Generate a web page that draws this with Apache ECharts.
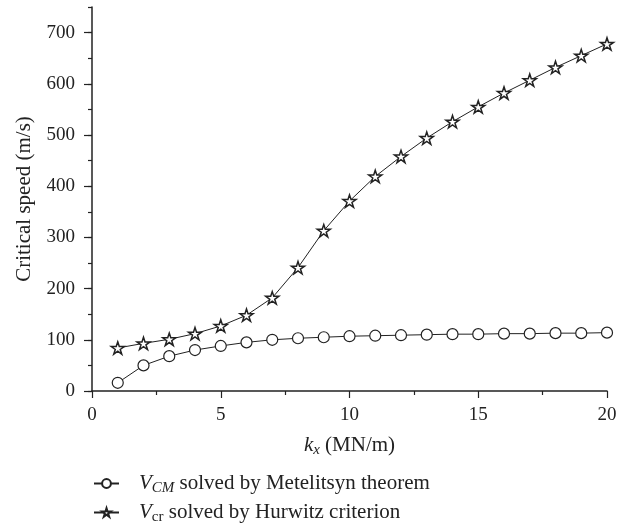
<!DOCTYPE html>
<html lang="en">
<head>
<meta charset="UTF-8">
<title>Critical speed vs kx</title>
<script src="https://cdn.jsdelivr.net/npm/echarts@6/dist/echarts.min.js"></script>
<style>
    html, body { margin: 0; padding: 0; background: #ffffff; }
    #main { width: 634px; height: 529px; }
</style>
</head>
<body>
<div id="main"></div>
<script type="text/javascript">
    // data
    var kx = [1, 2, 3, 4, 5, 6, 7, 8, 9, 10, 11, 12, 13, 14, 15, 16, 17, 18, 19, 20];
    var vCM = [16, 50, 68, 80, 88, 95, 100, 103, 105, 107, 108, 109, 110, 111, 111, 112, 112, 113, 113, 114];
    var vCr = [84, 93, 101, 112, 127, 148, 182, 241, 313, 371, 419, 458, 494, 526, 555, 582, 607, 632, 655, 678];
    var xTicks = [0, 5, 10, 15, 20];
    var yTicks = [0, 100, 200, 300, 400, 500, 600, 700];
    var seriesNames = ['VCM', 'Vcr'];

    var font = 'Liberation Serif';
    var star = 'path://M10,0 L12.25,6.91 L19.51,6.91 L13.63,11.18 L15.88,18.09 L10,13.82 L4.12,18.09 L6.37,11.18 L0.49,6.91 L7.75,6.91 Z';

    function pairs(xs, ys) {
        return xs.map(function (x, i) { return [x, ys[i]]; });
    }

    var chart = echarts.init(document.getElementById('main'));

    var option = {
        animation: false,
        backgroundColor: '#ffffff',
        grid: { left: 92, right: 27, top: 7, bottom: 138 },
        legend: {
            orient: 'vertical',
            left: 93,
            top: 473,
            padding: 0,
            itemWidth: 25,
            itemHeight: 11,
            itemGap: 6,
            data: seriesNames,
            textStyle: {
                fontFamily: font,
                fontSize: 21,
                color: '#222',
                padding: [0, 0, 0, 15],
                rich: {
                    v: { fontFamily: font, fontSize: 21, fontStyle: 'italic', color: '#222' },
                    si: { fontFamily: font, fontSize: 15, fontStyle: 'italic', color: '#222', verticalAlign: 'bottom', padding: [10, 0, 0, 0] },
                    su: { fontFamily: font, fontSize: 15, color: '#222', verticalAlign: 'bottom', padding: [10, 0, 0, 0] },
                    t: { fontFamily: font, fontSize: 21, color: '#222' }
                }
            },
            formatter: function (name) {
                if (name === 'VCM') return '{v|V}{si|CM}{t| solved by Metelitsyn theorem}';
                return '{v|V}{su|cr}{t| solved by Hurwitz criterion}';
            }
        },
        xAxis: {
            type: 'value',
            min: 0,
            max: 20,
            interval: 5,
            name: '{i|k}{s|x}{t| (MN/m)}',
            nameLocation: 'middle',
            nameGap: 42,
            nameTextStyle: {
                rich: {
                    i: { fontFamily: font, fontSize: 21, fontStyle: 'italic', color: '#222' },
                    s: { fontFamily: font, fontSize: 15, fontStyle: 'italic', color: '#222', verticalAlign: 'bottom', padding: [10, 0, 0, 0] },
                    t: { fontFamily: font, fontSize: 21, color: '#222' }
                }
            },
            axisLine: { lineStyle: { color: '#222', width: 1.5 } },
            axisTick: { length: 7, lineStyle: { color: '#222', width: 1.2 } },
            minorTick: { show: true, splitNumber: 2, length: 4, lineStyle: { color: '#222', width: 1.2 } },
            splitLine: { show: false },
            axisLabel: { margin: 15, fontFamily: font, fontSize: 19, color: '#222', customValues: xTicks }
        },
        yAxis: [
            {
                type: 'value',
                min: 0,
                max: 750,
                interval: 100,
                name: 'Critical speed (m/s)',
                nameLocation: 'middle',
                nameGap: 57,
                nameTextStyle: { fontFamily: font, fontSize: 21, color: '#222' },
                axisLine: { show: true, lineStyle: { color: '#222', width: 1.5 } },
                axisTick: { length: 8, customValues: yTicks, lineStyle: { color: '#222', width: 1.2 } },
                splitLine: { show: false },
                axisLabel: { margin: 17, fontFamily: font, fontSize: 19, color: '#222', customValues: yTicks }
            },
            {
                // half-step ticks (50s) drawn short
                type: 'value',
                min: 0,
                max: 750,
                interval: 50,
                position: 'left',
                axisLine: { show: false },
                axisTick: { show: true, length: 4, lineStyle: { color: '#222', width: 1.2 } },
                axisLabel: { show: false },
                splitLine: { show: false }
            }
        ],
        series: [
            {
                name: 'VCM',
                type: 'line',
                data: pairs(kx, vCM),
                symbol: 'circle',
                symbolSize: 11,
                lineStyle: { color: '#222', width: 1 },
                itemStyle: { color: '#ffffff', borderColor: '#222', borderWidth: 1.2 }
            },
            {
                name: 'Vcr',
                type: 'line',
                data: pairs(kx, vCr),
                symbol: star,
                symbolSize: 13,
                symbolKeepAspect: true,
                lineStyle: { color: '#222', width: 1 },
                itemStyle: { color: '#ffffff', borderColor: '#222', borderWidth: 1.5 }
            }
        ]
    };

    chart.setOption(option);
</script>
</body>
</html>
